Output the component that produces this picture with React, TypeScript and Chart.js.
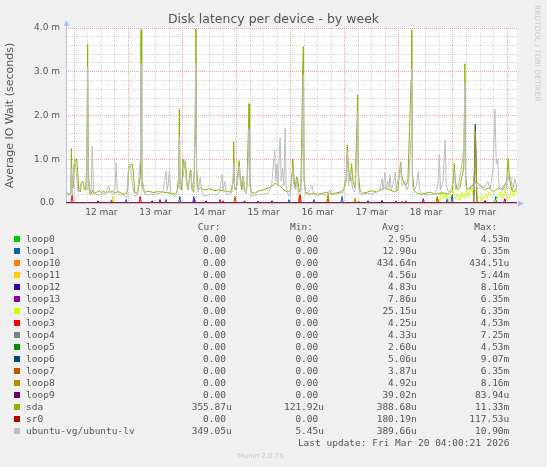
import { useEffect, useRef } from "react";
import Chart from "chart.js/auto";

// hours are counted from 12 mar 00:00, values are in milliseconds
const xStart = -3.7;
const xEnd = 196.4;
const dayLabels = ["12 mar", "13 mar", "14 mar", "15 mar", "16 mar", "17 mar", "18 mar", "19 mar"];
const yTickLabels = ["0.0  ", "1.0 m", "2.0 m", "3.0 m", "4.0 m"];

const deviceNames = [
  "loop0", "loop1", "loop10", "loop11", "loop12", "loop13", "loop2", "loop3", "loop4",
  "loop5", "loop6", "loop7", "loop8", "loop9", "sda", "sr0", "ubuntu-vg/ubuntu-lv",
];
const deviceColors = [
  "#00CC00", "#0066B3", "#FF8000", "#FFCC00", "#330099", "#990099", "#CCFF00", "#FF0000", "#808080",
  "#008F00", "#00487D", "#B35A00", "#B38F00", "#6B006B", "#8FB300", "#B30000", "#BEBEBE",
];
const curValues = [
  "0.00 ", "0.00 ", "0.00 ", "0.00 ", "0.00 ", "0.00 ", "0.00 ", "0.00 ", "0.00 ",
  "0.00 ", "0.00 ", "0.00 ", "0.00 ", "0.00 ", "355.87u", "0.00 ", "349.05u",
];
const minValues = [
  "0.00 ", "0.00 ", "0.00 ", "0.00 ", "0.00 ", "0.00 ", "0.00 ", "0.00 ", "0.00 ",
  "0.00 ", "0.00 ", "0.00 ", "0.00 ", "0.00 ", "121.92u", "0.00 ", "5.45u",
];
const avgValues = [
  "2.95u", "12.90u", "434.64n", "4.56u", "4.83u", "7.86u", "25.15u", "4.25u", "4.33u",
  "2.60u", "5.06u", "3.87u", "4.92u", "39.02n", "388.68u", "180.19n", "389.66u",
];
const maxValues = [
  "4.53m", "6.35m", "434.51u", "5.44m", "8.16m", "6.35m", "6.35m", "4.53m", "7.25m",
  "4.53m", "9.07m", "6.35m", "8.16m", "83.94u", "11.33m", "117.53u", "10.90m",
];

const sdaPoints: [number, number][] = [
  [-3.6, 0.25], [-3, 0.22], [-2, 0.2], [-1.6, 0.25], [-1.3, 1.25], [-1, 0.3], [-0.5, 0.35],
  [0, 0.9], [0.6, 1.0], [1, 1.02], [1.5, 0.7], [2, 0.3], [2.7, 0.25], [3.2, 0.48], [3.8, 0.5],
  [4.3, 0.35], [5, 0.3], [5.6, 0.9], [5.9, 3.62], [6.2, 0.8], [6.8, 0.25], [7.5, 0.2], [8, 0.3],
  [8.6, 0.22], [10, 0.25], [11, 0.28], [12, 0.24], [13, 0.27], [14, 0.22], [15, 0.26], [16, 0.24],
  [17, 0.28], [18, 0.22], [19, 0.26], [20, 0.25], [21, 0.22], [22, 0.2], [23, 0.22], [23.6, 0.3],
  [24.2, 0.85], [25, 0.88], [25.6, 0.9], [26.2, 0.7], [26.8, 0.25], [28, 0.22], [29.3, 0.6],
  [29.6, 3.96], [29.9, 0.6], [30.5, 0.3], [31.5, 0.25], [33, 0.27], [35, 0.24], [37, 0.26],
  [39, 0.25], [41, 0.24], [43, 0.22], [44.5, 0.2], [45.5, 0.25], [46.3, 0.6], [46.6, 2.15],
  [46.9, 0.5], [47.6, 0.3], [48.3, 1.0], [48.8, 0.8], [49.3, 0.95], [49.9, 0.5], [50.5, 0.3],
  [51.3, 0.7], [51.7, 0.75], [52.3, 0.3], [53, 0.25], [53.6, 1.5], [53.9, 3.98], [54.2, 0.8],
  [55, 0.3], [56, 0.35], [57, 0.32], [58, 0.3], [60, 0.33], [62, 0.28], [64, 0.3], [66, 0.28],
  [68, 0.26], [69.5, 0.25], [70.4, 0.5], [70.7, 1.4], [71, 0.4], [71.8, 0.3], [72.6, 0.7],
  [73.1, 0.97], [73.6, 0.6], [74.3, 0.3], [75, 0.6], [75.5, 0.3], [76.5, 0.3], [77.2, 1.6],
  [77.5, 2.27], [77.8, 0.5], [78.5, 0.25], [80, 0.22], [82, 0.28], [84, 0.3], [86, 0.35],
  [87, 0.35], [89, 0.45], [91, 0.4], [93, 0.3], [94.5, 0.25], [96, 0.3], [96.6, 0.7], [96.9, 1.0],
  [97.4, 0.6], [98, 0.35], [98.6, 0.6], [99.1, 0.55], [99.8, 0.25], [100.5, 0.3], [101.3, 2.9],
  [101.6, 3.58], [101.9, 0.6], [102.6, 0.25], [104, 0.2], [106, 0.22], [108, 0.2], [110, 0.22],
  [112, 0.25], [114, 0.2], [116, 0.23], [118, 0.25], [119.5, 0.3], [120.6, 0.6], [121.1, 1.33],
  [121.6, 0.8], [122.3, 0.5], [123, 0.9], [123.6, 0.5], [124.5, 0.35], [125.4, 1.8],
  [125.7, 2.47], [126, 0.7], [126.7, 0.3], [128, 0.22], [130, 0.25], [132, 0.28], [134, 0.25],
  [136, 0.3], [138, 0.35], [140, 0.3], [142, 0.25], [143.5, 0.3], [144.3, 0.7], [144.8, 0.93],
  [145.3, 0.6], [146, 0.5], [147, 0.4], [148, 0.5], [149.4, 2.8], [149.7, 3.96], [150, 0.7],
  [150.6, 0.3], [152, 0.22], [154, 0.2], [156, 0.22], [158, 0.25], [160, 0.2], [162, 0.22],
  [164, 0.23], [166, 0.2], [167.8, 0.3], [168.3, 0.7], [168.6, 0.91], [169, 0.5], [170, 0.3],
  [171, 0.35], [172.8, 0.8], [173.3, 3.18], [173.6, 0.6], [174.3, 0.3], [176, 0.35], [178, 0.5],
  [180, 0.4], [182, 0.3], [184, 0.35], [186, 0.25], [188, 0.35], [190, 0.3], [191.8, 0.5],
  [192.5, 1.02], [193, 0.6], [194, 0.3], [195, 0.25], [196.4, 0.35],
];

const ubuntuPoints: [number, number][] = [
  [-3.6, 0.2], [-2.5, 0.18], [-1.6, 0.2], [-1.3, 0.8], [-1, 0.2], [-0.2, 0.88], [0.4, 0.92],
  [1, 0.6], [1.6, 0.25], [2.3, 0.35], [3, 0.45], [3.8, 0.5], [4.3, 0.3], [5.2, 0.3], [5.6, 1.5],
  [5.9, 3.1], [6.2, 0.5], [6.8, 0.2], [7.5, 0.35], [8, 1.3], [8.5, 0.3], [9.2, 0.2], [11, 0.18],
  [12.5, 0.22], [13.5, 0.2], [14.5, 0.3], [15.3, 0.4], [15.9, 0.25], [17, 0.2], [18, 0.3],
  [18.5, 0.92], [19, 0.3], [20, 0.18], [21.5, 0.2], [22.5, 0.15], [23.3, 0.12], [24, 0.8],
  [24.8, 0.85], [25.6, 0.5], [26.2, 0.3], [27, 0.15], [28, 0.2], [29.3, 1.0], [29.6, 3.2],
  [29.9, 0.4], [30.5, 0.45], [31.3, 0.2], [32.5, 0.18], [34, 0.2], [36, 0.2], [38, 0.22],
  [39.5, 0.3], [40.3, 0.6], [40.7, 0.73], [41.2, 0.3], [41.7, 0.45], [42.2, 0.75], [42.8, 0.25],
  [43.5, 0.18], [44.5, 0.15], [45.3, 0.2], [46.3, 0.4], [46.6, 1.5], [46.9, 0.3], [47.7, 0.5],
  [48.3, 0.6], [49.1, 0.98], [49.6, 0.5], [50.3, 0.3], [51, 0.5], [51.6, 0.7], [52.3, 0.3],
  [53.1, 0.6], [53.9, 3.2], [54.3, 0.5], [55, 0.25], [55.8, 0.6], [56.5, 0.3], [57.5, 0.15],
  [59, 0.18], [61, 0.2], [63, 0.18], [64.5, 0.25], [65.2, 0.55], [65.5, 0.66], [66, 0.3],
  [66.7, 0.5], [67.5, 0.2], [69, 0.2], [70, 0.25], [70.7, 0.9], [71.1, 0.3], [72.2, 0.4],
  [73.1, 0.85], [73.7, 0.4], [74.3, 0.5], [74.8, 0.62], [75.4, 0.3], [76.3, 0.2], [77.2, 1.0],
  [77.5, 1.7], [77.8, 0.4], [78.6, 0.15], [80, 0.18], [82, 0.2], [84, 0.2], [86, 0.22],
  [87.5, 0.4], [88.9, 1.21], [89.4, 0.5], [89.9, 0.9], [90.4, 0.4], [91.3, 1.49], [91.8, 0.5],
  [92.4, 0.8], [93, 0.4], [93.5, 1.71], [94, 0.4], [94.8, 0.2], [95.6, 0.15], [96.4, 0.5],
  [96.9, 0.8], [97.4, 0.4], [98.2, 0.3], [98.8, 0.55], [99.4, 0.2], [100.5, 0.2], [101.3, 1.5],
  [101.6, 2.93], [101.9, 0.5], [102.7, 0.2], [104, 0.25], [105, 0.35], [105.5, 0.4], [106.2, 0.2],
  [108, 0.18], [110, 0.2], [112, 0.18], [113.4, 0.3], [114.2, 0.2], [116, 0.2], [118, 0.22],
  [119.5, 0.25], [120.6, 0.5], [121.1, 1.2], [121.6, 0.4], [122.4, 0.72], [123, 0.5],
  [123.6, 0.3], [124.5, 0.25], [125.4, 1.2], [125.7, 2.1], [126, 0.4], [126.8, 0.2], [128, 0.2],
  [130, 0.22], [132, 0.2], [134, 0.25], [135.5, 0.3], [136.5, 0.55], [137, 0.3], [137.8, 0.7],
  [138.3, 0.3], [139, 0.5], [139.6, 0.35], [140.1, 0.65], [140.6, 0.3], [141.5, 0.45],
  [142.3, 0.7], [142.8, 0.3], [143.5, 0.5], [144.3, 0.6], [144.8, 0.88], [145.4, 0.4],
  [146.5, 0.5], [147.5, 0.3], [148.3, 0.4], [149.4, 1.5], [149.7, 3.07], [150, 0.4],
  [150.8, 0.3], [151.8, 0.4], [152.6, 0.72], [153.2, 0.3], [154.5, 0.2], [156, 0.18], [158, 0.2],
  [160, 0.2], [161.3, 0.4], [161.9, 1.1], [162.5, 0.3], [163.6, 0.5], [164.5, 1.44], [165, 0.4],
  [166, 0.25], [167, 0.3], [168.3, 0.5], [168.6, 0.7], [169.2, 0.3], [170.5, 0.4], [172.8, 1.2],
  [173.3, 2.74], [173.6, 0.4], [174.5, 0.3], [176, 0.4], [177, 0.3], [178, 0.5], [179, 0.3],
  [180.5, 0.4], [182, 0.35], [183.5, 0.5], [184.5, 0.3], [185.8, 0.8], [186.6, 2.14],
  [187.2, 0.9], [187.8, 1.0], [188.4, 0.4], [189.5, 0.3], [190.5, 0.4], [191.5, 0.3],
  [192.3, 0.7], [192.8, 0.5], [193.6, 0.6], [194.5, 0.3], [195.5, 0.55], [196.4, 0.3],
];

// loop2 only shows activity on the last day and a half
const loop2Points: [number, number][] = [
  [-3.6, 0], [161.8, 0], [163, 0.25], [164, 0.1], [165, 0.2], [166, 0.05], [167, 0.15],
  [168, 0.3], [169, 0.1], [170, 0.2], [171, 0.05], [172, 0.25], [173, 0.1], [174, 0.3],
  [175, 0.15], [176, 0.35], [177, 0.2], [178, 0.3], [179, 0.1], [180, 0.15], [181, 0.05],
  [182, 0.2], [183, 0.1], [184, 0.25], [185, 0.15], [186, 0.1], [187, 0.05], [188, 0.15],
  [189, 0.25], [190, 0.1], [191, 0.3], [192, 0.05], [193, 0.1], [194, 0.35], [195, 0.15],
  [196.4, 0.3],
];

// short spikes of the loop devices: [hour, value]
const loop0Spikes: [number, number][] = [[126.3, 0.04]];
const loop1Spikes: [number, number][] = [
  [23, 0.08], [40.7, 0.08], [46.8, 0.15], [53, 0.15], [95.2, 0.08], [106.3, 0.08],
  [118.8, 0.15], [165.4, 0.1], [167.6, 0.2], [187, 0.15],
];
const loop10Spikes: [number, number][] = [[99.8, 0.2]];
const loop11Spikes: [number, number][] = [[17, 0.15], [124.5, 0.12]];
const loop12Spikes: [number, number][] = [
  [10.5, 0.05], [34.5, 0.05], [58.5, 0.05], [75.5, 0.05], [87.7, 0.05], [130.3, 0.05], [136.5, 0.06],
];
const loop13Spikes: [number, number][] = [
  [16.5, 0.06], [38, 0.08], [53.3, 0.1], [64.7, 0.08], [81.5, 0.05], [142.7, 0.05], [147, 0.05],
  [154.8, 0.1], [182.2, 0.06], [191, 0.1],
];
const loop3Spikes: [number, number][] = [
  [-1, 0.18], [29.2, 0.15], [66, 0.05], [100.2, 0.18], [145.4, 0.04],
];
const loop4Spikes: [number, number][] = [];
const loop5Spikes: [number, number][] = [[126.1, 0.03]];
const loop6Spikes: [number, number][] = [[177.9, 1.8]];
const loop7Spikes: [number, number][] = [[71.3, 0.15], [112.5, 0.15], [161, 0.15]];
const loop8Spikes: [number, number][] = [[112.6, 0.2], [124.6, 0.1], [161.2, 0.12], [177.9, 1.65]];
const loop9Spikes: [number, number][] = [];
const sr0Spikes: [number, number][] = [];

const spikeLine = (spikes: [number, number][]) => {
  const pts = [{ x: xStart, y: 0 }];
  spikes.forEach(([h, v]) => {
    const half = v > 1 ? 0.7 : 0.5;
    pts.push({ x: h - half, y: 0 }, { x: h, y: v }, { x: h + half, y: 0 });
  });
  pts.push({ x: xEnd, y: 0 });
  return pts;
};
const toXY = (points: [number, number][]) => points.map(([x, y]) => ({ x, y }));

const deviceData = [
  spikeLine(loop0Spikes), spikeLine(loop1Spikes), spikeLine(loop10Spikes), spikeLine(loop11Spikes),
  spikeLine(loop12Spikes), spikeLine(loop13Spikes), toXY(loop2Points), spikeLine(loop3Spikes),
  spikeLine(loop4Spikes), spikeLine(loop5Spikes), spikeLine(loop6Spikes), spikeLine(loop7Spikes),
  spikeLine(loop8Spikes), spikeLine(loop9Spikes), toXY(sdaPoints), spikeLine(sr0Spikes),
  toXY(ubuntuPoints),
];

const xTickHours = Array.from({ length: 33 }, (_, i) => i * 6);
const yTickValues = Array.from({ length: 21 }, (_, i) => Math.round(i * 2) / 10);

const TEXT = "#555555";
const MAJOR_GRID = "rgba(230, 90, 90, 0.55)";
const MINOR_GRID = "rgba(150, 150, 150, 0.4)";
const AXIS = "#B8BEF0";

const frame = {
  id: "muninFrame",
  beforeDraw(chart: Chart) {
    const { ctx, chartArea } = chart;
    ctx.save();
    ctx.fillStyle = "#FFFFFF";
    ctx.fillRect(chartArea.left, chartArea.top, chartArea.right - chartArea.left, chartArea.bottom - chartArea.top);
    ctx.restore();
  },
  beforeDatasetsDraw(chart: Chart) {
    const { ctx, chartArea } = chart;
    const x0 = chartArea.left + 0.5;
    const y0 = chartArea.bottom + 0.5;
    ctx.save();
    ctx.strokeStyle = AXIS;
    ctx.fillStyle = AXIS;
    ctx.lineWidth = 1;
    ctx.beginPath();
    ctx.moveTo(x0, y0);
    ctx.lineTo(x0, chartArea.top - 5);
    ctx.moveTo(x0, y0);
    ctx.lineTo(chartArea.right + 3, y0);
    ctx.stroke();
    ctx.beginPath();
    ctx.moveTo(x0, chartArea.top - 8);
    ctx.lineTo(x0 - 3, chartArea.top - 2);
    ctx.lineTo(x0 + 3, chartArea.top - 2);
    ctx.closePath();
    ctx.fill();
    ctx.beginPath();
    ctx.moveTo(chartArea.right + 7, y0);
    ctx.lineTo(chartArea.right + 1, y0 - 3);
    ctx.lineTo(chartArea.right + 1, y0 + 3);
    ctx.closePath();
    ctx.fill();
    ctx.restore();
  },
  afterDraw(chart: Chart) {
    const { ctx, chartArea } = chart;
    ctx.save();
    ctx.fillStyle = TEXT;
    ctx.textAlign = "center";
    ctx.textBaseline = "middle";
    ctx.font = "12.5px 'DejaVu Sans'";
    ctx.fillText("Disk latency per device - by week", 273.5, 19.5);

    ctx.save();
    ctx.translate(10.5, (chartArea.top + chartArea.bottom) / 2);
    ctx.rotate(-Math.PI / 2);
    ctx.font = "11px 'DejaVu Sans'";
    ctx.fillText("Average IO Wait (seconds)", 0, 0);
    ctx.restore();

    ctx.save();
    ctx.translate(537, 5);
    ctx.rotate(Math.PI / 2);
    ctx.textAlign = "left";
    ctx.fillStyle = "#CCCCCC";
    ctx.font = "7.5px 'DejaVu Sans'";
    ctx.fillText("RRDTOOL / TOBI OETIKER", 0, 0);
    ctx.restore();
    ctx.restore();
  },
};

const MuninChart: React.FC = () => {
  const chartRef = useRef<HTMLCanvasElement | null>(null);
  const chartInstanceRef = useRef<Chart | null>(null);

  useEffect(() => {
    if (!chartRef.current) return;
    if (chartInstanceRef.current) chartInstanceRef.current.destroy();

    const ctx = chartRef.current.getContext("2d");
    if (!ctx) return;

    chartInstanceRef.current = new Chart(ctx, {
      type: "line",
      data: {
        datasets: deviceNames.map((name, i) => ({
          label: name,
          data: deviceData[i],
          borderColor: deviceColors[i],
          backgroundColor: deviceColors[i],
          borderWidth: 1,
          borderJoinStyle: "round" as const,
          pointRadius: 0,
          tension: 0,
          fill: false,
          order: deviceNames.length - 1 - i, // later devices are drawn on top, like rrdtool
        })),
      },
      options: {
        responsive: false,
        animation: false,
        events: [],
        layout: { padding: { left: 0, right: 30, top: 28, bottom: 244 } },
        plugins: {
          legend: { display: false },
          title: { display: false },
          tooltip: { enabled: false },
        },
        scales: {
          x: {
            type: "linear",
            min: xStart,
            max: xEnd,
            afterFit: (scale) => {
              scale.height = 20;
            },
            afterBuildTicks: (scale) => {
              scale.ticks = xTickHours.map((v) => ({ value: v }));
            },
            grid: {
              drawTicks: false,
              color: (c) => (c.tick && c.tick.value % 24 === 0 ? MAJOR_GRID : MINOR_GRID),
            },
            border: { display: false, dash: [1, 1] },
            ticks: {
              autoSkip: false,
              maxRotation: 0,
              padding: 4,
              color: TEXT,
              font: { family: "'DejaVu Sans'", size: 9 },
              callback: (value) => {
                const v = Number(value);
                return v % 24 === 12 ? dayLabels[(v - 12) / 24] : "";
              },
            },
          },
          y: {
            type: "linear",
            min: 0,
            max: 4,
            afterFit: (scale) => {
              scale.width = 66;
            },
            afterBuildTicks: (scale) => {
              scale.ticks = yTickValues.map((v) => ({ value: v }));
            },
            grid: {
              drawTicks: false,
              color: (c) => (c.index % 5 === 0 ? MAJOR_GRID : MINOR_GRID),
            },
            border: { display: false, dash: [1, 1] },
            ticks: {
              autoSkip: false,
              padding: 6,
              color: TEXT,
              font: { family: "'DejaVu Sans'", size: 9 },
              callback: (_value, index) => (index % 5 === 0 ? yTickLabels[index / 5] : ""),
            },
          },
        },
      },
      plugins: [frame],
    });

    return () => {
      if (chartInstanceRef.current) {
        chartInstanceRef.current.destroy();
        chartInstanceRef.current = null;
      }
    };
  }, []);

  return <canvas ref={chartRef} width={547} height={467} style={{ display: "block" }} />;
};

const mono: React.CSSProperties = {
  position: "absolute",
  fontFamily: "'DejaVu Sans Mono', monospace",
  fontSize: "9.5px",
  lineHeight: "12px",
  height: 12,
  color: TEXT,
  whiteSpace: "pre",
};

const valueColumns = [
  { header: "Cur:", headerLeft: 197.7, right: 231.7, values: curValues },
  { header: "Min:", headerLeft: 290, right: 324, values: minValues },
  { header: "Avg:", headerLeft: 382, right: 416.7, values: avgValues },
  { header: "Max:", headerLeft: 474.3, right: 509.3, values: maxValues },
];

const App: React.FC = () => {
  const firstRow = 239.3;
  return (
    <div
      style={{
        position: "fixed",
        left: 0,
        top: 0,
        width: 547,
        height: 467,
        background: "#F0F0F0",
        overflow: "hidden",
      }}
    >
      <MuninChart />
      {valueColumns.map((col) => (
        <div key={col.header} style={{ ...mono, left: col.headerLeft, top: 227.3 - 6 }}>
          {col.header}
        </div>
      ))}
      {deviceNames.map((name, i) => {
        const cy = firstRow + i * 12;
        return (
          <div key={name}>
            <div
              style={{
                position: "absolute",
                left: 14,
                top: cy - 3,
                width: 6,
                height: 6,
                background: deviceColors[i],
              }}
            />
            <div style={{ ...mono, left: 26, top: cy - 6 }}>{name}</div>
            {valueColumns.map((col) => (
              <div
                key={col.header}
                style={{ ...mono, right: 547 - col.right, top: cy - 6, textAlign: "right" }}
              >
                {col.values[i]}
              </div>
            ))}
          </div>
        );
      })}
      <div style={{ ...mono, right: 547 - 509.5, top: 443.3 - 6, textAlign: "right" }}>
        Last update: Fri Mar 20 04:00:21 2026
      </div>
      <div
        style={{
          position: "absolute",
          left: 0,
          width: 521.4,
          top: 456 - 6,
          lineHeight: "12px",
          textAlign: "center",
          fontFamily: "'DejaVu Sans', sans-serif",
          fontSize: "7px",
          color: "#C8C8C8",
        }}
      >
        Munin 2.0.75
      </div>
    </div>
  );
};

export default App;
